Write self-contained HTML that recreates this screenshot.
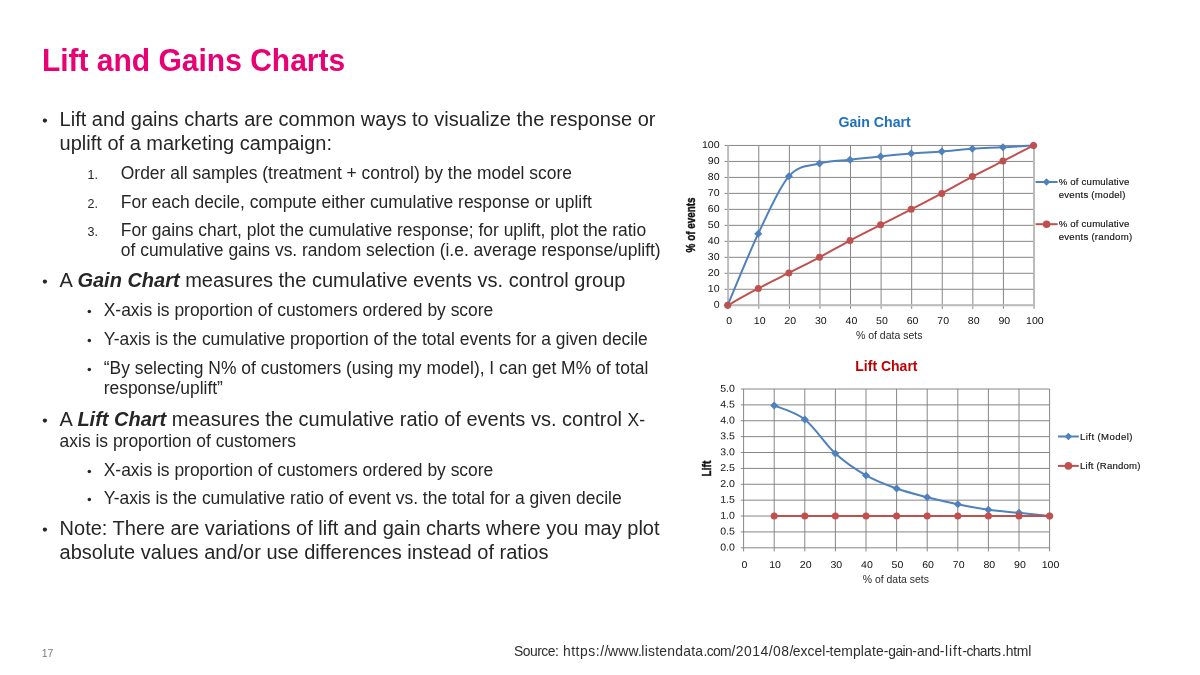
<!DOCTYPE html>
<html><head><meta charset="utf-8"><title>Lift and Gains Charts</title>
<style>
html,body{margin:0;padding:0;background:#fff;}
body{width:1200px;height:675px;position:relative;overflow:hidden;font-family:"Liberation Sans",sans-serif;color:#262626;}
svg{position:absolute;left:0;top:0;will-change:transform;}
svg text{font-family:"Liberation Sans",sans-serif;white-space:pre;}
</style></head><body>
<svg width="1200" height="675" viewBox="0 0 1200 675">

<text transform="translate(41.9,71) scale(1,1.045)" font-size="30" font-weight="bold" fill="#e90074">Lift and Gains Charts</text>
<circle cx="44.90" cy="120.60" r="2.10" fill="#262626"/>
<text x="59.60" y="126" font-size="20" fill="#262626" >Lift and gains charts are common ways to visualize the response or</text>
<text x="59.60" y="150" font-size="20" fill="#262626" >uplift of a marketing campaign:</text>
<text x="87.50" y="179" font-size="12.5" fill="#262626" >1.</text>
<text x="120.80" y="179" font-size="17.45" fill="#262626" >Order all samples (treatment + control) by the model score</text>
<text x="87.50" y="208" font-size="12.5" fill="#262626" >2.</text>
<text x="120.80" y="208" font-size="17.45" fill="#262626" >For each decile, compute either cumulative response or uplift</text>
<text x="87.50" y="236" font-size="12.5" fill="#262626" >3.</text>
<text x="120.80" y="236" font-size="17.45" fill="#262626" >For gains chart, plot the cumulative response; for uplift, plot the ratio</text>
<text x="120.80" y="256" font-size="17.45" fill="#262626" >of cumulative gains vs. random selection (i.e. average response/uplift)</text>
<circle cx="44.90" cy="281.60" r="2.10" fill="#262626"/>
<text x="59.60" y="287" font-size="20" fill="#262626" >A <tspan font-weight="bold" font-style="italic">Gain Chart</tspan> measures the cumulative events vs. control group</text>
<circle cx="89.30" cy="311.60" r="1.75" fill="#262626"/>
<text x="103.70" y="316" font-size="17.45" fill="#262626" >X-axis is proportion of customers ordered by score</text>
<circle cx="89.30" cy="340.60" r="1.75" fill="#262626"/>
<text x="103.70" y="345" font-size="17.45" fill="#262626" >Y-axis is the cumulative proportion of the total events for a given decile</text>
<circle cx="89.30" cy="369.60" r="1.75" fill="#262626"/>
<text x="103.70" y="374" font-size="17.45" fill="#262626" >“By selecting N% of customers (using my model), I can get M% of total</text>
<text x="103.70" y="394" font-size="17.45" fill="#262626" >response/uplift”</text>
<circle cx="44.90" cy="420.60" r="2.10" fill="#262626"/>
<text x="59.60" y="426" font-size="20" fill="#262626" >A <tspan font-weight="bold" font-style="italic">Lift Chart</tspan> measures the cumulative ratio of events vs. control <tspan font-size="17.45">X-</tspan></text>
<text x="59.60" y="447" font-size="17.45" fill="#262626" >axis is proportion of customers</text>
<circle cx="89.30" cy="471.60" r="1.75" fill="#262626"/>
<text x="103.70" y="476" font-size="17.45" fill="#262626" >X-axis is proportion of customers ordered by score</text>
<circle cx="89.30" cy="499.60" r="1.75" fill="#262626"/>
<text x="103.70" y="504" font-size="17.45" fill="#262626" >Y-axis is the cumulative ratio of event vs. the total for a given decile</text>
<circle cx="44.90" cy="529.60" r="2.10" fill="#262626"/>
<text x="59.60" y="535" font-size="20" fill="#262626" >Note: There are variations of lift and gain charts where you may plot</text>
<text x="59.60" y="559" font-size="20" fill="#262626" >absolute values and/or use differences instead of ratios</text>
<text x="41.70" y="657" font-size="10.5" fill="#262626" style="fill:#7c7c7c">17</text>
<text x="513.90" y="656" font-size="13.9" fill="#2e2e2e" textLength="45.00" lengthAdjust="spacing">Source:</text>
<text x="562.90" y="656" font-size="13.9" fill="#2e2e2e" textLength="45.50" lengthAdjust="spacing">https://</text>
<text x="607.90" y="656" font-size="13.9" fill="#2e2e2e" textLength="33.90" lengthAdjust="spacing">www.</text>
<text x="641.30" y="656" font-size="13.9" fill="#2e2e2e" textLength="61.80" lengthAdjust="spacing">listendata</text>
<text x="703.60" y="656" font-size="13.9" fill="#2e2e2e" textLength="28.00" lengthAdjust="spacing">.com</text>
<text x="731.40" y="656" font-size="13.9" fill="#2e2e2e" textLength="61.90" lengthAdjust="spacing">/2014/08/</text>
<text x="792.80" y="656" font-size="13.9" fill="#2e2e2e" textLength="37.30" lengthAdjust="spacing">excel-</text>
<text x="829.40" y="656" font-size="13.9" fill="#2e2e2e" textLength="59.10" lengthAdjust="spacing">template-</text>
<text x="888.20" y="656" font-size="13.9" fill="#2e2e2e" textLength="28.70" lengthAdjust="spacing">gain-</text>
<text x="916.90" y="656" font-size="13.9" fill="#2e2e2e" textLength="27.60" lengthAdjust="spacing">and-</text>
<text x="944.90" y="656" font-size="13.9" fill="#2e2e2e" textLength="22.20" lengthAdjust="spacing">lift-</text>
<text x="966.60" y="656" font-size="13.9" fill="#2e2e2e" textLength="34.30" lengthAdjust="spacing">charts</text>
<text x="1002.00" y="656" font-size="13.9" fill="#2e2e2e" textLength="29.30" lengthAdjust="spacing">.html</text>
<path d="M724.60,305.25H1034.00 M724.60,289.27H1034.00 M724.60,273.29H1034.00 M724.60,257.31H1034.00 M724.60,241.33H1034.00 M724.60,225.35H1034.00 M724.60,209.37H1034.00 M724.60,193.39H1034.00 M724.60,177.41H1034.00 M724.60,161.43H1034.00 M724.60,145.45H1034.00 M728.2,145.45V308.85 M758.78,145.45V308.85 M789.36,145.45V308.85 M819.94,145.45V308.85 M850.52,145.45V308.85 M881.1,145.45V308.85 M911.68,145.45V308.85 M942.26,145.45V308.85 M972.84,145.45V308.85 M1003.42,145.45V308.85 M1034.0,145.45V308.85" stroke="#868686" stroke-width="1" fill="none"/>
<path d="M728.20,145.45V305.25H1034.00V145.45" stroke="#bcbcbc" stroke-width="1.8" fill="none"/>
<text transform="translate(719.60,307.85) rotate(0.03) scale(1.06,1)" font-size="10.0" text-anchor="end" fill="#111">0</text>
<text transform="translate(729.10,323.90) rotate(0.03) scale(1.06,1)" font-size="10.0" text-anchor="middle" fill="#111">0</text>
<text transform="translate(719.60,291.87) rotate(0.03) scale(1.06,1)" font-size="10.0" text-anchor="end" fill="#111">10</text>
<text transform="translate(759.68,323.90) rotate(0.03) scale(1.06,1)" font-size="10.0" text-anchor="middle" fill="#111">10</text>
<text transform="translate(719.60,275.89) rotate(0.03) scale(1.06,1)" font-size="10.0" text-anchor="end" fill="#111">20</text>
<text transform="translate(790.26,323.90) rotate(0.03) scale(1.06,1)" font-size="10.0" text-anchor="middle" fill="#111">20</text>
<text transform="translate(719.60,259.91) rotate(0.03) scale(1.06,1)" font-size="10.0" text-anchor="end" fill="#111">30</text>
<text transform="translate(820.84,323.90) rotate(0.03) scale(1.06,1)" font-size="10.0" text-anchor="middle" fill="#111">30</text>
<text transform="translate(719.60,243.93) rotate(0.03) scale(1.06,1)" font-size="10.0" text-anchor="end" fill="#111">40</text>
<text transform="translate(851.42,323.90) rotate(0.03) scale(1.06,1)" font-size="10.0" text-anchor="middle" fill="#111">40</text>
<text transform="translate(719.60,227.95) rotate(0.03) scale(1.06,1)" font-size="10.0" text-anchor="end" fill="#111">50</text>
<text transform="translate(882.00,323.90) rotate(0.03) scale(1.06,1)" font-size="10.0" text-anchor="middle" fill="#111">50</text>
<text transform="translate(719.60,211.97) rotate(0.03) scale(1.06,1)" font-size="10.0" text-anchor="end" fill="#111">60</text>
<text transform="translate(912.58,323.90) rotate(0.03) scale(1.06,1)" font-size="10.0" text-anchor="middle" fill="#111">60</text>
<text transform="translate(719.60,195.99) rotate(0.03) scale(1.06,1)" font-size="10.0" text-anchor="end" fill="#111">70</text>
<text transform="translate(943.16,323.90) rotate(0.03) scale(1.06,1)" font-size="10.0" text-anchor="middle" fill="#111">70</text>
<text transform="translate(719.60,180.01) rotate(0.03) scale(1.06,1)" font-size="10.0" text-anchor="end" fill="#111">80</text>
<text transform="translate(973.74,323.90) rotate(0.03) scale(1.06,1)" font-size="10.0" text-anchor="middle" fill="#111">80</text>
<text transform="translate(719.60,164.03) rotate(0.03) scale(1.06,1)" font-size="10.0" text-anchor="end" fill="#111">90</text>
<text transform="translate(1004.32,323.90) rotate(0.03) scale(1.06,1)" font-size="10.0" text-anchor="middle" fill="#111">90</text>
<text transform="translate(719.60,148.05) rotate(0.03) scale(1.06,1)" font-size="10.0" text-anchor="end" fill="#111">100</text>
<text transform="translate(1034.90,323.90) rotate(0.03) scale(1.06,1)" font-size="10.0" text-anchor="middle" fill="#111">100</text>
<text x="855.90" y="339" font-size="10.8" textLength="66.60" lengthAdjust="spacingAndGlyphs" fill="#2a2a2a" >% of data sets</text>
<text transform="translate(694.50,252.40) rotate(-90)" font-size="12.2" textLength="55.00" lengthAdjust="spacingAndGlyphs" fill="#111" font-weight="bold" stroke="#1a1a1a" stroke-width="0.45">% of events</text>
<text x="838.40" y="127" font-size="14.7" textLength="72.40" lengthAdjust="spacingAndGlyphs" fill="#1f70c0" font-weight="bold">Gain Chart</text>
<path d="M727.70,305.25 C732.80,293.32 748.09,255.15 758.28,233.66 C768.47,212.17 778.67,187.98 788.86,176.29 C799.05,164.60 809.25,166.28 819.44,163.51 C829.63,160.74 839.83,160.84 850.02,159.67 C860.21,158.50 870.41,157.49 880.60,156.48 C890.79,155.46 900.99,154.43 911.18,153.60 C921.37,152.77 931.57,152.35 941.76,151.52 C951.95,150.70 962.15,149.34 972.34,148.65 C982.53,147.95 992.73,147.90 1002.92,147.37 C1013.11,146.83 1028.40,145.77 1033.50,145.45" stroke="#4f81bd" stroke-width="2.0" fill="none"/>
<path d="M727.70,301.25 L731.70,305.25 L727.70,309.25 L723.70,305.25Z" fill="#4f81bd"/>
<path d="M758.28,229.66 L762.28,233.66 L758.28,237.66 L754.28,233.66Z" fill="#4f81bd"/>
<path d="M788.86,172.29 L792.86,176.29 L788.86,180.29 L784.86,176.29Z" fill="#4f81bd"/>
<path d="M819.44,159.51 L823.44,163.51 L819.44,167.51 L815.44,163.51Z" fill="#4f81bd"/>
<path d="M850.02,155.67 L854.02,159.67 L850.02,163.67 L846.02,159.67Z" fill="#4f81bd"/>
<path d="M880.60,152.48 L884.60,156.48 L880.60,160.48 L876.60,156.48Z" fill="#4f81bd"/>
<path d="M911.18,149.60 L915.18,153.60 L911.18,157.60 L907.18,153.60Z" fill="#4f81bd"/>
<path d="M941.76,147.52 L945.76,151.52 L941.76,155.52 L937.76,151.52Z" fill="#4f81bd"/>
<path d="M972.34,144.65 L976.34,148.65 L972.34,152.65 L968.34,148.65Z" fill="#4f81bd"/>
<path d="M1002.92,143.37 L1006.92,147.37 L1002.92,151.37 L998.92,147.37Z" fill="#4f81bd"/>
<path d="M1033.50,141.45 L1037.50,145.45 L1033.50,149.45 L1029.50,145.45Z" fill="#4f81bd"/>
<path d="M727.70,305.25 C732.80,302.45 748.09,293.85 758.28,288.47 C768.47,283.09 778.67,278.16 788.86,272.97 C799.05,267.78 809.25,262.72 819.44,257.31 C829.63,251.90 839.83,245.94 850.02,240.53 C860.21,235.12 870.41,230.06 880.60,224.87 C890.79,219.68 900.99,214.62 911.18,209.37 C921.37,204.12 931.57,198.85 941.76,193.39 C951.95,187.93 962.15,181.99 972.34,176.61 C982.53,171.23 992.73,166.30 1002.92,161.11 C1013.11,155.92 1028.40,148.06 1033.50,145.45" stroke="#c0504d" stroke-width="2.0" fill="none"/>
<circle cx="727.70" cy="305.25" r="3.5" fill="#c0504d"/>
<circle cx="758.28" cy="288.47" r="3.5" fill="#c0504d"/>
<circle cx="788.86" cy="272.97" r="3.5" fill="#c0504d"/>
<circle cx="819.44" cy="257.31" r="3.5" fill="#c0504d"/>
<circle cx="850.02" cy="240.53" r="3.5" fill="#c0504d"/>
<circle cx="880.60" cy="224.87" r="3.5" fill="#c0504d"/>
<circle cx="911.18" cy="209.37" r="3.5" fill="#c0504d"/>
<circle cx="941.76" cy="193.39" r="3.5" fill="#c0504d"/>
<circle cx="972.34" cy="176.61" r="3.5" fill="#c0504d"/>
<circle cx="1002.92" cy="161.11" r="3.5" fill="#c0504d"/>
<circle cx="1033.50" cy="145.45" r="3.5" fill="#c0504d"/>
<path d="M1035.6,182H1057.6" stroke="#4f81bd" stroke-width="2.0"/><path d="M1046.50,178.20 L1050.30,182.00 L1046.50,185.80 L1042.70,182.00Z" fill="#4f81bd"/>
<text x="1058.70" y="185" font-size="9.6" textLength="70.60" lengthAdjust="spacing" fill="#111" stroke="#111" stroke-width="0.15">% of cumulative</text>
<text x="1058.70" y="198" font-size="9.6" textLength="66.70" lengthAdjust="spacing" fill="#111" stroke="#111" stroke-width="0.15">events (model)</text>
<path d="M1035.6,224.2H1057.6" stroke="#c0504d" stroke-width="2.0"/><circle cx="1046.6" cy="224.2" r="3.8" fill="#c0504d"/>
<text x="1058.70" y="227" font-size="9.6" textLength="70.60" lengthAdjust="spacing" fill="#111" stroke="#111" stroke-width="0.15">% of cumulative</text>
<text x="1058.70" y="240" font-size="9.6" textLength="73.40" lengthAdjust="spacing" fill="#111" stroke="#111" stroke-width="0.15">events (random)</text>
<path d="M740.80,547.8H1049.60 M740.80,531.92H1049.60 M740.80,516.04H1049.60 M740.80,500.16H1049.60 M740.80,484.28H1049.60 M740.80,468.4H1049.60 M740.80,452.52H1049.60 M740.80,436.64H1049.60 M740.80,420.76H1049.60 M740.80,404.88H1049.60 M740.80,389.0H1049.60 M743.6,389.00V551.40 M774.2,389.00V551.40 M804.8,389.00V551.40 M835.4,389.00V551.40 M866.0,389.00V551.40 M896.6,389.00V551.40 M927.2,389.00V551.40 M957.8,389.00V551.40 M988.4,389.00V551.40 M1019.0,389.00V551.40 M1049.6,389.00V551.40" stroke="#868686" stroke-width="1" fill="none"/>
<text transform="translate(734.90,550.50) rotate(0.03) scale(1.06,1)" font-size="10.0" text-anchor="end" fill="#111">0.0</text>
<text transform="translate(744.50,567.90) rotate(0.03) scale(1.06,1)" font-size="10.0" text-anchor="middle" fill="#111">0</text>
<text transform="translate(734.90,534.62) rotate(0.03) scale(1.06,1)" font-size="10.0" text-anchor="end" fill="#111">0.5</text>
<text transform="translate(775.10,567.90) rotate(0.03) scale(1.06,1)" font-size="10.0" text-anchor="middle" fill="#111">10</text>
<text transform="translate(734.90,518.74) rotate(0.03) scale(1.06,1)" font-size="10.0" text-anchor="end" fill="#111">1.0</text>
<text transform="translate(805.70,567.90) rotate(0.03) scale(1.06,1)" font-size="10.0" text-anchor="middle" fill="#111">20</text>
<text transform="translate(734.90,502.86) rotate(0.03) scale(1.06,1)" font-size="10.0" text-anchor="end" fill="#111">1.5</text>
<text transform="translate(836.30,567.90) rotate(0.03) scale(1.06,1)" font-size="10.0" text-anchor="middle" fill="#111">30</text>
<text transform="translate(734.90,486.98) rotate(0.03) scale(1.06,1)" font-size="10.0" text-anchor="end" fill="#111">2.0</text>
<text transform="translate(866.90,567.90) rotate(0.03) scale(1.06,1)" font-size="10.0" text-anchor="middle" fill="#111">40</text>
<text transform="translate(734.90,471.10) rotate(0.03) scale(1.06,1)" font-size="10.0" text-anchor="end" fill="#111">2.5</text>
<text transform="translate(897.50,567.90) rotate(0.03) scale(1.06,1)" font-size="10.0" text-anchor="middle" fill="#111">50</text>
<text transform="translate(734.90,455.22) rotate(0.03) scale(1.06,1)" font-size="10.0" text-anchor="end" fill="#111">3.0</text>
<text transform="translate(928.10,567.90) rotate(0.03) scale(1.06,1)" font-size="10.0" text-anchor="middle" fill="#111">60</text>
<text transform="translate(734.90,439.34) rotate(0.03) scale(1.06,1)" font-size="10.0" text-anchor="end" fill="#111">3.5</text>
<text transform="translate(958.70,567.90) rotate(0.03) scale(1.06,1)" font-size="10.0" text-anchor="middle" fill="#111">70</text>
<text transform="translate(734.90,423.46) rotate(0.03) scale(1.06,1)" font-size="10.0" text-anchor="end" fill="#111">4.0</text>
<text transform="translate(989.30,567.90) rotate(0.03) scale(1.06,1)" font-size="10.0" text-anchor="middle" fill="#111">80</text>
<text transform="translate(734.90,407.58) rotate(0.03) scale(1.06,1)" font-size="10.0" text-anchor="end" fill="#111">4.5</text>
<text transform="translate(1019.90,567.90) rotate(0.03) scale(1.06,1)" font-size="10.0" text-anchor="middle" fill="#111">90</text>
<text transform="translate(734.90,391.70) rotate(0.03) scale(1.06,1)" font-size="10.0" text-anchor="end" fill="#111">5.0</text>
<text transform="translate(1050.50,567.90) rotate(0.03) scale(1.06,1)" font-size="10.0" text-anchor="middle" fill="#111">100</text>
<text x="862.80" y="583" font-size="10.8" textLength="66.10" lengthAdjust="spacingAndGlyphs" fill="#2a2a2a" >% of data sets</text>
<text transform="translate(710.60,476.40) rotate(-90)" font-size="12.2" textLength="15.70" lengthAdjust="spacingAndGlyphs" fill="#111" font-weight="bold" stroke="#1a1a1a" stroke-width="0.45">Lift</text>
<text x="855.30" y="371" font-size="14.9" textLength="62.20" lengthAdjust="spacingAndGlyphs" fill="#c00000" font-weight="bold">Lift Chart</text>
<path d="M774.20,405.52 C779.30,407.84 794.60,411.50 804.80,419.49 C815.00,427.48 825.20,444.16 835.40,453.47 C845.60,462.79 855.80,469.54 866.00,475.39 C876.20,481.23 886.40,484.88 896.60,488.54 C906.80,492.19 917.00,494.68 927.20,497.30 C937.40,499.93 947.60,502.22 957.80,504.29 C968.00,506.35 978.20,508.26 988.40,509.69 C998.60,511.12 1008.80,511.81 1019.00,512.86 C1029.20,513.92 1044.50,515.51 1049.60,516.04" stroke="#4f81bd" stroke-width="2.0" fill="none"/>
<path d="M774.20,401.52 L778.20,405.52 L774.20,409.52 L770.20,405.52Z" fill="#4f81bd"/>
<path d="M804.80,415.49 L808.80,419.49 L804.80,423.49 L800.80,419.49Z" fill="#4f81bd"/>
<path d="M835.40,449.47 L839.40,453.47 L835.40,457.47 L831.40,453.47Z" fill="#4f81bd"/>
<path d="M866.00,471.39 L870.00,475.39 L866.00,479.39 L862.00,475.39Z" fill="#4f81bd"/>
<path d="M896.60,484.54 L900.60,488.54 L896.60,492.54 L892.60,488.54Z" fill="#4f81bd"/>
<path d="M927.20,493.30 L931.20,497.30 L927.20,501.30 L923.20,497.30Z" fill="#4f81bd"/>
<path d="M957.80,500.29 L961.80,504.29 L957.80,508.29 L953.80,504.29Z" fill="#4f81bd"/>
<path d="M988.40,505.69 L992.40,509.69 L988.40,513.69 L984.40,509.69Z" fill="#4f81bd"/>
<path d="M1019.00,508.86 L1023.00,512.86 L1019.00,516.86 L1015.00,512.86Z" fill="#4f81bd"/>
<path d="M1049.60,512.04 L1053.60,516.04 L1049.60,520.04 L1045.60,516.04Z" fill="#4f81bd"/>
<path d="M774.20,516.04H1049.60" stroke="#c0504d" stroke-width="2.0" fill="none"/>
<circle cx="774.20" cy="516.04" r="3.5" fill="#c0504d"/>
<circle cx="804.80" cy="516.04" r="3.5" fill="#c0504d"/>
<circle cx="835.40" cy="516.04" r="3.5" fill="#c0504d"/>
<circle cx="866.00" cy="516.04" r="3.5" fill="#c0504d"/>
<circle cx="896.60" cy="516.04" r="3.5" fill="#c0504d"/>
<circle cx="927.20" cy="516.04" r="3.5" fill="#c0504d"/>
<circle cx="957.80" cy="516.04" r="3.5" fill="#c0504d"/>
<circle cx="988.40" cy="516.04" r="3.5" fill="#c0504d"/>
<circle cx="1019.00" cy="516.04" r="3.5" fill="#c0504d"/>
<circle cx="1049.60" cy="516.04" r="3.5" fill="#c0504d"/>
<path d="M1058,436.5H1078.8" stroke="#4f81bd" stroke-width="2.0"/><path d="M1068.40,432.70 L1072.20,436.50 L1068.40,440.30 L1064.60,436.50Z" fill="#4f81bd"/>
<text x="1080.10" y="440" font-size="9.6" textLength="52.30" lengthAdjust="spacing" fill="#111" stroke="#111" stroke-width="0.15">Lift (Model)</text>
<path d="M1058,465.9H1078.8" stroke="#c0504d" stroke-width="2.0"/><circle cx="1068.4" cy="465.9" r="3.8" fill="#c0504d"/>
<text x="1080.10" y="469" font-size="9.6" textLength="60.30" lengthAdjust="spacing" fill="#111" stroke="#111" stroke-width="0.15">Lift (Random)</text>
</svg>
</body></html>
